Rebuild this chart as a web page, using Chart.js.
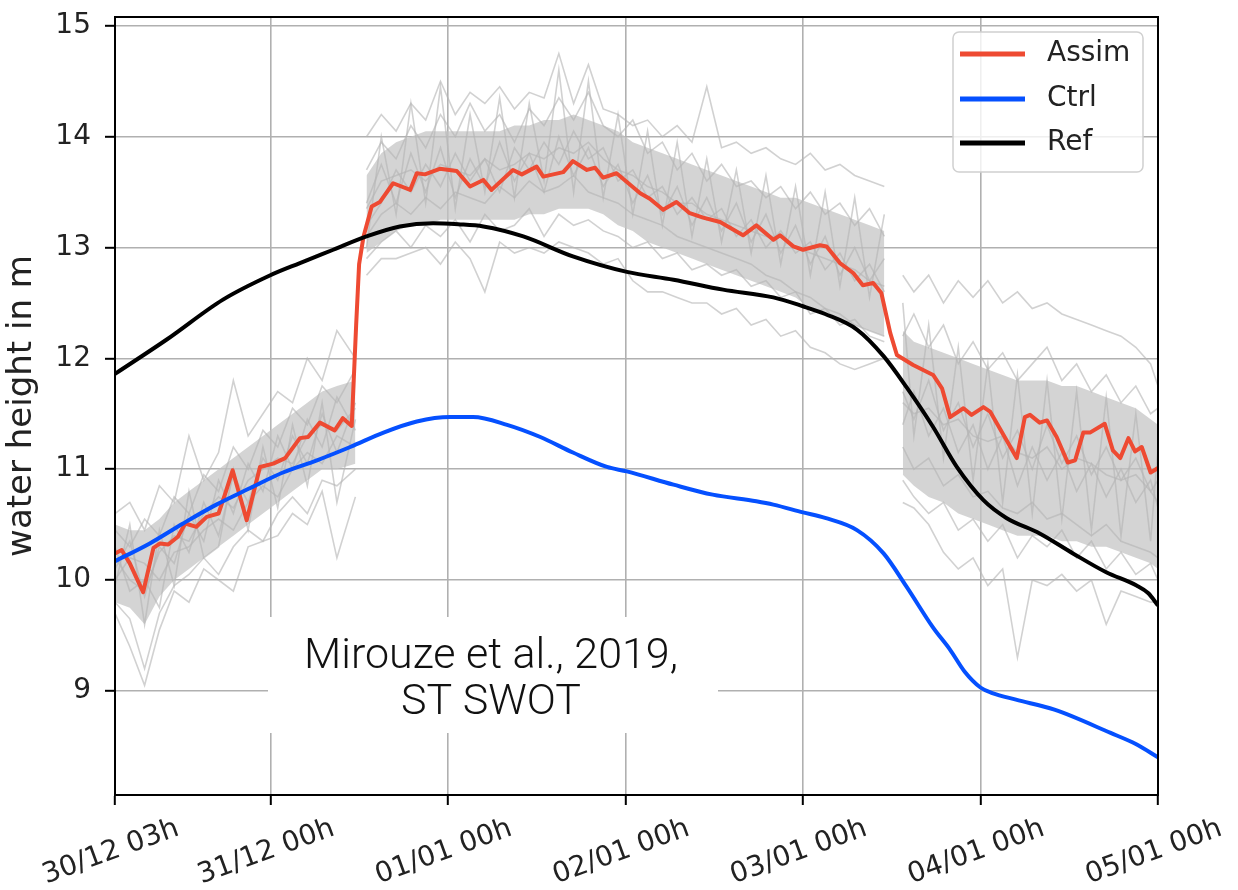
<!DOCTYPE html>
<html>
<head>
<meta charset="utf-8">
<script src="https://cdn.jsdelivr.net/npm/chart.js@4.4.0/dist/chart.umd.min.js"></script>
<style>
  html, body { margin: 0; padding: 0; background: #fff; }
  #wrap { width: 1238px; height: 890px; }
</style>
</head>
<body>
<div id="wrap"><canvas id="chart" width="1238" height="890"></canvas></div>
<script>
// hours counted from 30/12 03h
const tickHours = [0, 21, 45, 69, 93, 117, 141];
const tickLabels = ['30/12 03h', '31/12 00h', '01/01 00h', '02/01 00h', '03/01 00h', '04/01 00h', '05/01 00h'];
const yTicks = [9, 10, 11, 12, 13, 14, 15];

// Assim (red)
const assimHours = [0, 0.9, 2.0, 3.8, 5.2, 6.1, 7.2, 8.5, 9.5, 11.0, 12.4, 14.0, 14.9, 15.9, 17.8, 19.6, 21.4, 23.0, 25.0, 26.1, 27.7, 29.7, 30.8, 32.0, 32.6, 33.0, 33.6, 34.7, 35.8, 37.6, 39.9, 40.8, 41.9, 43.9, 46.2, 48.0, 49.8, 50.9, 53.8, 55.0, 57.0, 57.9, 60.6, 61.9, 63.8, 64.9, 66.0, 67.8, 71.0, 72.3, 74.1, 75.9, 77.7, 79.5, 81.8, 84.9, 86.7, 89.0, 89.9, 91.7, 93.0, 95.3, 96.2, 98.0, 99.8, 101.1, 102.5, 103.6, 104.8, 105.7, 107.9, 110.6, 111.8, 112.9, 114.7, 115.8, 117.4, 118.3, 121.9, 123.0, 123.7, 125.0, 126.0, 127.3, 128.8, 129.8, 130.9, 131.8, 133.8, 134.9, 135.9, 137.0, 137.9, 138.8, 140.0, 141.0];
const assimValues = [10.24, 10.27, 10.15, 9.89, 10.29, 10.33, 10.32, 10.39, 10.51, 10.48, 10.57, 10.60, 10.78, 10.99, 10.54, 11.02, 11.05, 11.10, 11.28, 11.29, 11.42, 11.35, 11.46, 11.39, 12.3, 12.85, 13.1, 13.37, 13.41, 13.58, 13.52, 13.67, 13.66, 13.71, 13.69, 13.55, 13.61, 13.52, 13.70, 13.66, 13.73, 13.64, 13.68, 13.78, 13.70, 13.72, 13.63, 13.67, 13.49, 13.44, 13.34, 13.41, 13.31, 13.27, 13.23, 13.11, 13.20, 13.07, 13.11, 13.01, 12.98, 13.02, 13.01, 12.86, 12.77, 12.66, 12.68, 12.59, 12.23, 12.03, 11.94, 11.85, 11.73, 11.47, 11.55, 11.49, 11.56, 11.52, 11.10, 11.47, 11.49, 11.42, 11.44, 11.29, 11.06, 11.08, 11.33, 11.33, 11.41, 11.17, 11.10, 11.28, 11.16, 11.20, 10.97, 11.01];

// Ctrl (blue)
const ctrlHours = [0, 4.7, 9.2, 13.7, 18.3, 22.7, 27.3, 31.8, 36.3, 40.8, 45.3, 48.4, 53.0, 57.5, 61.9, 66.5, 69.2, 75.5, 80.8, 86.7, 89.0, 93.0, 96.0, 100.3, 103.9, 107.0, 110.6, 112.9, 114.9, 117.0, 118.6, 121.8, 127.0, 134.6, 138.0, 141.0];
const ctrlValues = [10.17, 10.33, 10.51, 10.68, 10.83, 10.97, 11.08, 11.20, 11.33, 11.43, 11.47, 11.47, 11.40, 11.29, 11.15, 11.02, 10.98, 10.86, 10.77, 10.71, 10.68, 10.61, 10.56, 10.45, 10.24, 9.94, 9.57, 9.37, 9.17, 9.03, 8.98, 8.92, 8.83, 8.62, 8.52, 8.40];

// Ref (black)
const refHours = [0, 7.0, 14.6, 21.0, 25.0, 29.5, 34.0, 38.5, 43.0, 46.4, 49.8, 55.2, 61.9, 69.2, 75.5, 82.2, 89.0, 93.0, 96.0, 100.3, 103.9, 107.0, 110.6, 113.8, 117.4, 120.5, 125.0, 129.5, 134.0, 138.1, 139.7, 141.0];
const refValues = [11.86, 12.17, 12.53, 12.75, 12.86, 12.98, 13.10, 13.19, 13.22, 13.21, 13.19, 13.10, 12.92, 12.78, 12.71, 12.62, 12.55, 12.47, 12.40, 12.26, 12.02, 11.74, 11.38, 11.02, 10.72, 10.56, 10.42, 10.24, 10.07, 9.95, 9.88, 9.77];

// ensemble members, three analysis windows separated by null gaps
const ensHours = [0, 2, 4, 6, 8, 10, 12, 14, 16, 18, 20, 22, 24, 26, 28, 30, 32.5,
  33,
  34, 36, 38, 40, 42, 44, 46, 48, 50, 52, 54, 56, 58, 60, 62, 64, 66, 68, 70, 72, 74, 76, 78, 80, 82, 84, 86, 88, 90, 92, 94, 96, 98, 100, 102, 104,
  105.5,
  106.5, 108, 110, 112, 114, 116, 118, 120, 122, 124, 126, 128, 130, 132, 134, 136, 138, 140, 141];

const member1 = [10.45, 10.3, 10.55, 10.4, 10.75, 10.6, 10.95, 10.8, 11.2, 11.0, 11.35, 11.2, 11.55, 11.4, 11.75, 11.6, 11.9,
  null,
  13.7, 13.95, 13.8, 14.1, 13.9, 14.2, 14.0, 14.3, 14.05, 14.2, 13.95, 14.25, 14.1, 14.35, 14.15, 14.4, 14.1, 14.0, 14.15, 13.85, 13.95, 13.7, 13.85, 13.6, 13.75, 13.55, 13.6, 13.45, 13.55, 13.35, 13.5, 13.3, 13.4, 13.2, 13.35, 13.1,
  null,
  12.2, 12.4, 12.1, 12.3, 11.95, 12.15, 11.9, 12.05, 11.8, 11.95, 12.1, 11.8, 11.95, 11.7, 11.85, 11.6, 11.75, 11.5, 11.55];
const member2 = [9.8, 9.65, 9.2, 9.7, 9.95, 10.05, 10.2, 10.05, 10.3, 10.45, 10.35, 10.6, 10.75, 10.6, 10.9, 10.85, 11.0,
  null,
  12.9, 13.05, 13.15, 13.0, 13.2, 13.1, 13.25, 13.05, 13.3, 13.15, 13.2, 13.35, 13.1, 13.3, 13.2, 13.25, 13.15, 13.1, 13.0, 13.05, 12.9, 12.95, 12.8, 12.85, 12.75, 12.8, 12.65, 12.7, 12.55, 12.6, 12.4, 12.45, 12.3, 12.35, 12.2, 12.15,
  null,
  10.9, 10.75, 10.6, 10.7, 10.45, 10.55, 10.35, 10.5, 10.2, 10.4, 10.3, 10.45, 10.2, 10.35, 10.1, 10.25, 10.05, 10.15, 10.0];
const member3 = [10.1, 10.35, 9.85, 10.3, 10.15, 10.6, 10.35, 10.9, 10.6, 11.05, 10.8, 11.3, 11.0, 11.45, 11.2, 11.65, 11.35,
  null,
  13.4, 13.75, 13.4, 13.85, 13.5, 13.9, 13.45, 13.8, 13.55, 13.95, 13.6, 13.85, 13.5, 14.0, 13.65, 13.9, 13.55, 13.75, 13.4, 13.65, 13.3, 13.55, 13.2, 13.45, 13.15, 13.4, 13.05, 13.3, 12.95, 13.2, 12.85, 13.1, 12.75, 13.0, 12.7, 12.9,
  null,
  11.7, 11.45, 11.8, 11.35, 11.6, 11.2, 11.5, 11.1, 11.35, 11.0, 11.4, 11.05, 11.3, 10.95, 11.2, 10.9, 11.1, 10.8, 10.9];
const member4 = [10.3, 9.9, 10.0, 9.75, 10.5, 10.25, 10.7, 10.4, 10.95, 10.7, 11.1, 10.9, 11.3, 11.05, 11.5, 11.15, 11.6,
  null,
  13.2, 13.4, 13.7, 13.5, 13.75, 13.55, 13.85, 13.6, 13.8, 13.5, 13.9, 13.7, 13.95, 13.75, 14.05, 13.8, 13.9, 13.6, 13.7, 13.45, 13.55, 13.3, 13.45, 13.25, 13.35, 13.1, 13.25, 13.0, 13.15, 12.95, 13.05, 12.8, 12.95, 12.7, 12.85, 12.6,
  null,
  11.4, 11.7, 11.3, 11.55, 11.15, 11.4, 11.0, 11.3, 10.85, 11.2, 10.9, 11.15, 10.8, 11.05, 10.75, 11.0, 10.7, 10.9, 10.65];
const member5 = [9.95, 10.5, 9.6, 10.45, 9.95, 10.8, 10.2, 10.3, 11.0, 10.45, 11.2, 10.65, 11.4, 10.85, 11.6, 10.7, 11.45,
  null,
  13.0, 14.0, 13.3, 14.3, 13.4, 14.45, 13.35, 14.2, 13.5, 14.35, 13.45, 14.3, 13.6, 14.6, 13.5, 14.5, 13.45, 14.2, 13.3, 14.05, 13.2, 13.95, 13.1, 13.8, 13.05, 13.7, 12.95, 13.65, 12.85, 13.55, 12.75, 13.5, 12.65, 13.45, 12.55, 13.3,
  null,
  12.5, 11.3, 12.3, 11.1, 12.1, 10.9, 11.95, 10.7, 11.85, 10.6, 11.8, 10.55, 11.7, 10.45, 11.65, 10.4, 11.5, 10.35, 11.2];
const member6 = [10.0, 10.2, 10.15, 10.0, 10.25, 10.3, 10.45, 10.55, 10.45, 10.7, 10.85, 10.75, 11.0, 11.15, 11.05, 11.3, 11.2,
  null,
  13.1, 13.3, 13.4, 13.3, 13.45, 13.35, 13.5, 13.45, 13.4, 13.55, 13.45, 13.6, 13.5, 13.55, 13.65, 13.5, 13.45, 13.4, 13.3, 13.25, 13.2, 13.1, 13.05, 13.0, 12.95, 12.9, 12.85, 12.75, 12.7, 12.6, 12.55, 12.45, 12.4, 12.3, 12.25, 12.2,
  null,
  11.2, 11.0, 11.1, 10.85, 10.95, 10.75, 10.8, 10.65, 10.6, 10.7, 10.55, 10.6, 10.5, 10.4, 10.5, 10.35, 10.3, 10.25, 10.2];
const member7 = [10.6, 10.7, 10.45, 10.85, 10.7, 11.3, 10.9, 11.15, 11.8, 11.3, 11.5, 11.7, 11.6, 12.0, 11.8, 12.25, 12.0,
  null,
  14.0, 14.2, 14.05, 14.3, 14.15, 14.5, 14.2, 14.4, 14.3, 14.45, 14.25, 14.4, 14.35, 14.75, 14.3, 14.65, 14.25, 14.2, 14.1, 14.15, 14.0, 14.1, 13.95, 14.45, 13.9, 13.95, 13.85, 13.9, 13.8, 13.75, 13.85, 13.7, 13.75, 13.65, 13.6, 13.55,
  null,
  12.75, 12.6, 12.75, 12.5, 12.7, 12.55, 12.7, 12.5, 12.6, 12.45, 12.5, 12.4, 12.35, 12.3, 12.25, 12.2, 12.1, 11.95, 11.75];
const member8 = [9.7, 9.4, 9.05, 9.55, 9.9, 9.8, 10.1, 10.0, 9.9, 10.3, 10.35, 10.4, 10.6, 10.5, 10.8, 10.2, 10.75,
  null,
  12.75, 12.9, 12.9, 12.95, 13.0, 12.85, 13.05, 12.9, 12.6, 13.05, 12.95, 13.0, 12.95, 13.05, 13.0, 12.95, 12.85, 12.9, 12.7, 12.6, 12.6, 12.55, 12.5, 12.5, 12.4, 12.45, 12.3, 12.35, 12.2, 12.25, 12.1, 12.05, 11.95, 11.9, 11.95, 12.0,
  null,
  10.7, 10.65, 10.5, 10.25, 10.1, 10.2, 9.95, 10.1, 9.3, 10.0, 9.95, 10.05, 9.9, 10.0, 9.6, 9.9, 9.85, 9.8, 9.8];
const member9 = [10.2, 10.0, 9.9, 10.25, 10.4, 10.35, 10.6, 10.75, 10.65, 10.9, 11.0, 11.1, 11.05, 11.3, 11.4, 11.35, 11.55,
  null,
  13.35, 13.6, 13.65, 13.7, 13.6, 13.75, 13.7, 13.65, 13.8, 13.7, 13.75, 13.85, 13.8, 13.9, 13.85, 13.95, 13.8, 13.7, 13.65, 13.55, 13.5, 13.4, 13.4, 13.3, 13.25, 13.2, 13.15, 13.1, 13.1, 13.0, 12.95, 12.9, 12.85, 12.8, 12.7, 12.65,
  null,
  11.6, 11.5, 11.55, 11.4, 11.45, 11.3, 11.25, 11.3, 11.15, 11.1, 11.2, 11.0, 11.1, 11.05, 10.95, 10.9, 10.95, 10.8, 10.7];

// dense part of the ensemble (lower / upper edge)
const ensCoreLow = [9.8, 9.75, 9.6, 9.85, 10.0, 10.1, 10.2, 10.3, 10.4, 10.5, 10.6, 10.7, 10.8, 10.9, 11.0, 11.0, 11.05,
  null,
  12.95, 13.05, 13.15, 13.2, 13.2, 13.25, 13.25, 13.25, 13.25, 13.25, 13.25, 13.3, 13.3, 13.35, 13.35, 13.35, 13.3, 13.2, 13.15, 13.05, 13.0, 12.95, 12.9, 12.85, 12.8, 12.75, 12.7, 12.65, 12.6, 12.55, 12.45, 12.4, 12.35, 12.3, 12.25, 12.2,
  null,
  10.95, 10.85, 10.75, 10.7, 10.6, 10.55, 10.5, 10.45, 10.4, 10.4, 10.4, 10.35, 10.35, 10.3, 10.3, 10.25, 10.2, 10.15, 10.1];
const ensCoreHigh = [10.5, 10.45, 10.45, 10.55, 10.7, 10.8, 10.9, 11.0, 11.1, 11.2, 11.3, 11.4, 11.5, 11.6, 11.7, 11.75, 11.8,
  null,
  13.65, 13.85, 13.95, 14.0, 14.05, 14.05, 14.05, 14.05, 14.05, 14.05, 14.1, 14.1, 14.15, 14.15, 14.2, 14.15, 14.1, 14.05, 13.95, 13.9, 13.85, 13.8, 13.75, 13.7, 13.65, 13.6, 13.55, 13.5, 13.45, 13.45, 13.4, 13.35, 13.3, 13.25, 13.2, 13.15,
  null,
  12.25, 12.15, 12.1, 12.05, 12.0, 11.95, 11.9, 11.85, 11.8, 11.8, 11.8, 11.75, 11.75, 11.7, 11.65, 11.6, 11.55, 11.45, 11.4];

const members = [member1, member2, member3, member4, member5, member6, member7, member8, member9];

const seriesNames = ['Assim', 'Ctrl', 'Ref'];
const seriesColors = ['#ee4a32', '#0550ff', '#000000'];

function toPoints(xs, ys) {
  return xs.map((x, i) => ({ x: x, y: ys[i] }));
}

const datasets = [];

// ensemble envelope
datasets.push({
  data: toPoints(ensHours, ensCoreLow),
  borderColor: 'transparent', borderWidth: 0, pointRadius: 0, fill: false, order: 20
});
datasets.push({
  data: toPoints(ensHours, ensCoreHigh),
  borderColor: 'transparent', borderWidth: 0, pointRadius: 0,
  fill: '-1', backgroundColor: 'rgba(196,196,196,0.72)', order: 19
});

members.forEach(m => {
  datasets.push({
    data: toPoints(ensHours, m),
    borderColor: 'rgba(180,180,180,0.62)', borderWidth: 1.6,
    pointRadius: 0, fill: false, tension: 0, spanGaps: false, order: 10
  });
});

datasets.push({
  label: 'Assim', data: toPoints(assimHours, assimValues),
  borderColor: seriesColors[0], borderWidth: 4, pointRadius: 0, tension: 0,
  borderJoinStyle: 'round', order: 2
});
datasets.push({
  label: 'Ctrl', data: toPoints(ctrlHours, ctrlValues),
  borderColor: seriesColors[1], borderWidth: 4, pointRadius: 0,
  cubicInterpolationMode: 'monotone', order: 1
});
datasets.push({
  label: 'Ref', data: toPoints(refHours, refValues),
  borderColor: seriesColors[2], borderWidth: 4, pointRadius: 0,
  cubicInterpolationMode: 'monotone', order: 0
});

// black box round the plot, legend and the citation box
const decorations = {
  id: 'decorations',
  afterDatasetsDraw(chart) {
    const { ctx, chartArea: a } = chart;
    ctx.save();
    ctx.strokeStyle = '#000';
    ctx.lineWidth = 2;
    ctx.strokeRect(a.left, a.top, a.right - a.left, a.bottom - a.top);
    ctx.restore();
  },
  afterDraw(chart) {
    const { ctx } = chart;
    ctx.save();

    // legend
    const bx = 953, by = 32, bw = 190, bh = 140, r = 6;
    ctx.beginPath();
    ctx.moveTo(bx + r, by);
    ctx.arcTo(bx + bw, by, bx + bw, by + bh, r);
    ctx.arcTo(bx + bw, by + bh, bx, by + bh, r);
    ctx.arcTo(bx, by + bh, bx, by, r);
    ctx.arcTo(bx, by, bx + bw, by, r);
    ctx.closePath();
    ctx.fillStyle = 'rgba(255,255,255,0.8)';
    ctx.fill();
    ctx.strokeStyle = '#d0d0d0';
    ctx.lineWidth = 1.5;
    ctx.stroke();

    const rows = [54, 99, 143];
    ctx.font = '28px "DejaVu Sans"';
    ctx.textBaseline = 'middle';
    ctx.textAlign = 'left';
    seriesNames.forEach((name, i) => {
      ctx.strokeStyle = seriesColors[i];
      ctx.lineWidth = 5;
      ctx.beginPath();
      ctx.moveTo(960, rows[i]);
      ctx.lineTo(1025, rows[i]);
      ctx.stroke();
      ctx.fillStyle = '#222';
      ctx.fillText(name, 1047, rows[i]);
    });

    // citation
    ctx.fillStyle = '#fff';
    ctx.fillRect(268, 617, 450, 116);
    ctx.fillStyle = '#111';
    ctx.font = '300 43px Roboto, "Liberation Sans", sans-serif';
    ctx.textAlign = 'center';
    ctx.textBaseline = 'alphabetic';
    ctx.fillText('Mirouze et al., 2019,', 491, 668);
    ctx.fillText('ST SWOT', 491, 714);
    ctx.restore();
  }
};

new Chart(document.getElementById('chart'), {
  type: 'line',
  data: { datasets },
  options: {
    responsive: false,
    animation: false,
    devicePixelRatio: 1,
    layout: { padding: { top: 17, right: 80, left: 0, bottom: 0 } },
    plugins: { legend: { display: false }, tooltip: { enabled: false } },
    elements: { point: { radius: 0 } },
    scales: {
      x: {
        type: 'linear',
        min: 0,
        max: 141,
        afterBuildTicks: s => { s.ticks = tickHours.map(v => ({ value: v })); },
        afterFit: s => { s.height = 95; s.paddingLeft = 0; s.paddingRight = 0; },
        ticks: {
          autoSkip: false,
          minRotation: 20,
          maxRotation: 20,
          labelOffset: 63,
          padding: 7,
          color: '#222',
          font: { family: 'DejaVu Sans', size: 28 },
          callback: (v, i) => tickLabels[i]
        },
        grid: { color: '#b0b0b0', lineWidth: 1.6, tickColor: '#000', tickLength: 10, tickWidth: 2 },
        border: { color: '#000', width: 2 }
      },
      y: {
        min: 8.06,
        max: 15.08,
        afterBuildTicks: s => { s.ticks = yTicks.map(v => ({ value: v })); },
        afterFit: s => { s.width = 115; s.paddingTop = 0; s.paddingBottom = 0; },
        ticks: {
          padding: 14,
          color: '#222',
          font: { family: 'DejaVu Sans', size: 28 }
        },
        grid: { color: '#b0b0b0', lineWidth: 1.6, tickColor: '#000', tickLength: 10, tickWidth: 2 },
        border: { color: '#000', width: 2 },
        title: {
          display: true,
          text: 'water height in m',
          color: '#222',
          font: { family: 'DejaVu Sans', size: 34 },
          padding: { top: 2, bottom: 0 }
        }
      }
    }
  },
  plugins: [decorations]
});
</script>
</body>
</html>
